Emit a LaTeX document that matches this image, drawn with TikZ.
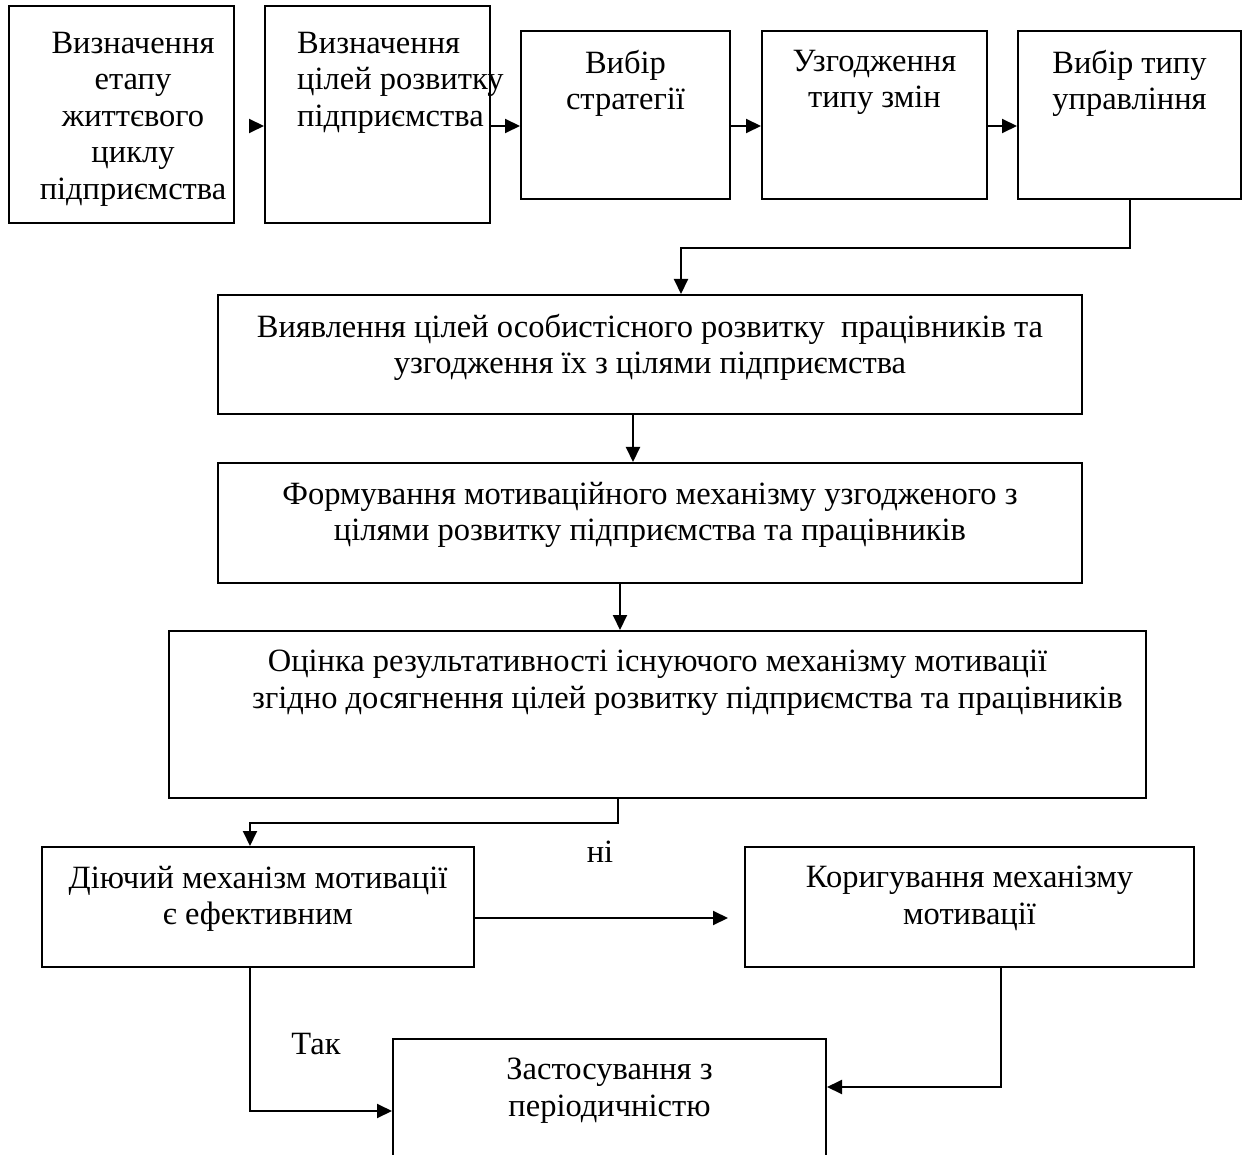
\documentclass[tikz,border=0pt]{standalone}
\usepackage{fontspec}
\setmainfont{Liberation Serif}
\usetikzlibrary{arrows.meta}

\tikzset{
  blk/.style={draw,line width=2pt,anchor=north west,inner sep=0pt},
  txt/.style={anchor=north,align=center,inner sep=0pt,yshift=-20pt,font=\fontsize{32.5}{36.5}\selectfont},
  arr/.style={line width=2pt,-{Triangle[length=15pt,width=14pt]}},
}

\begin{document}
\begin{tikzpicture}[x=1pt,y=-1pt]
    \useasboundingbox (0,0) rectangle (1243,1155);

    \node[blk,minimum width=225pt,minimum height=217pt,label={[txt,yshift=-7pt,xshift=11.5pt]north:Визначення\\етапу\\життєвого\\циклу\\підприємства}](etap)at(8,5){};
    \node[blk,minimum width=225pt,minimum height=217pt,label={[txt,anchor=north west,align=left,yshift=-7pt,xshift=33pt]north west:Визначення\\цілей розвитку\\підприємства}](cili)at(264,5){};
    \node[blk,minimum width=209pt,minimum height=168pt,label={[txt]north:Вибір\\стратегії}](strat)at(520,30){};
    \node[blk,minimum width=225pt,minimum height=168pt,label={[txt]north:Узгодження\\типу змін}](zmin)at(761,30){};
    \node[blk,minimum width=223pt,minimum height=168pt,label={[txt]north:Вибір типу\\управління}](upr)at(1017,30){};

    \node[blk,minimum width=864pt,minimum height=119pt,label={[txt]north:Виявлення цілей особистісного розвитку\ \ працівників та\\узгодження їх з цілями підприємства}](vyyav)at(217,294){};
    \node[blk,minimum width=864pt,minimum height=120pt,label={[txt]north:Формування мотиваційного механізму узгодженого з\\цілями розвитку підприємства та працівників}](form)at(217,462){};
    \node[blk,minimum width=977pt,minimum height=167pt,label={[txt]north:Оцінка результативності існуючого механізму мотивації\\\hspace*{60pt}згідно досягнення цілей розвитку підприємства та працівників}](ocinka)at(168,630){};

    \node[blk,minimum width=432pt,minimum height=120pt,label={[txt]north:Діючий механізм мотивації\\є ефективним}](diyuch)at(41,846){};
    \node[blk,minimum width=449pt,minimum height=120pt,label={[txt]north:Коригування механізму\\мотивації}](koryg)at(744,846){};
    \node[blk,minimum width=433pt,minimum height=140pt,label={[txt]north:Застосування з\\періодичністю}](zast)at(392,1038){};

    \node[font=\fontsize{32.5}{36.5}\selectfont](ni)at(600,852){ні};
    \node[font=\fontsize{32.5}{36.5}\selectfont](tak)at(316,1044){Так};

    \draw[arr,shorten <=16pt] (etap.east |- 0,126) to (cili.west |- 0,126);
    \draw[arr] (cili.east |- 0,126) to (strat.west |- 0,126);
    \draw[arr] (strat.east |- 0,126) to (zmin.west |- 0,126);
    \draw[arr] (zmin.east |- 0,126) to (upr.west |- 0,126);
    \draw[arr] (upr.south) -- ++(0,48) -| ([xshift=31pt]vyyav.north);
    \draw[arr] ([xshift=-17pt]vyyav.south) to ([xshift=-17pt]form.north);
    \draw[arr] ([xshift=-30pt]form.south) to ([xshift=-37.5pt]ocinka.north);
    \draw[arr] ([xshift=-39.5pt]ocinka.south) -- ++(0,24) -| ([xshift=-8pt]diyuch.north);
    \draw[arr,shorten >=16pt] (diyuch.east |- 0,918) to (koryg.west |- 0,918);
    \draw[arr] ([xshift=-8pt]diyuch.south) |- ([yshift=-2pt]zast.west);
    \draw[arr] ([xshift=31.5pt]koryg.south) |- ([yshift=22pt]zast.east);
  \end{tikzpicture}
\end{document}
